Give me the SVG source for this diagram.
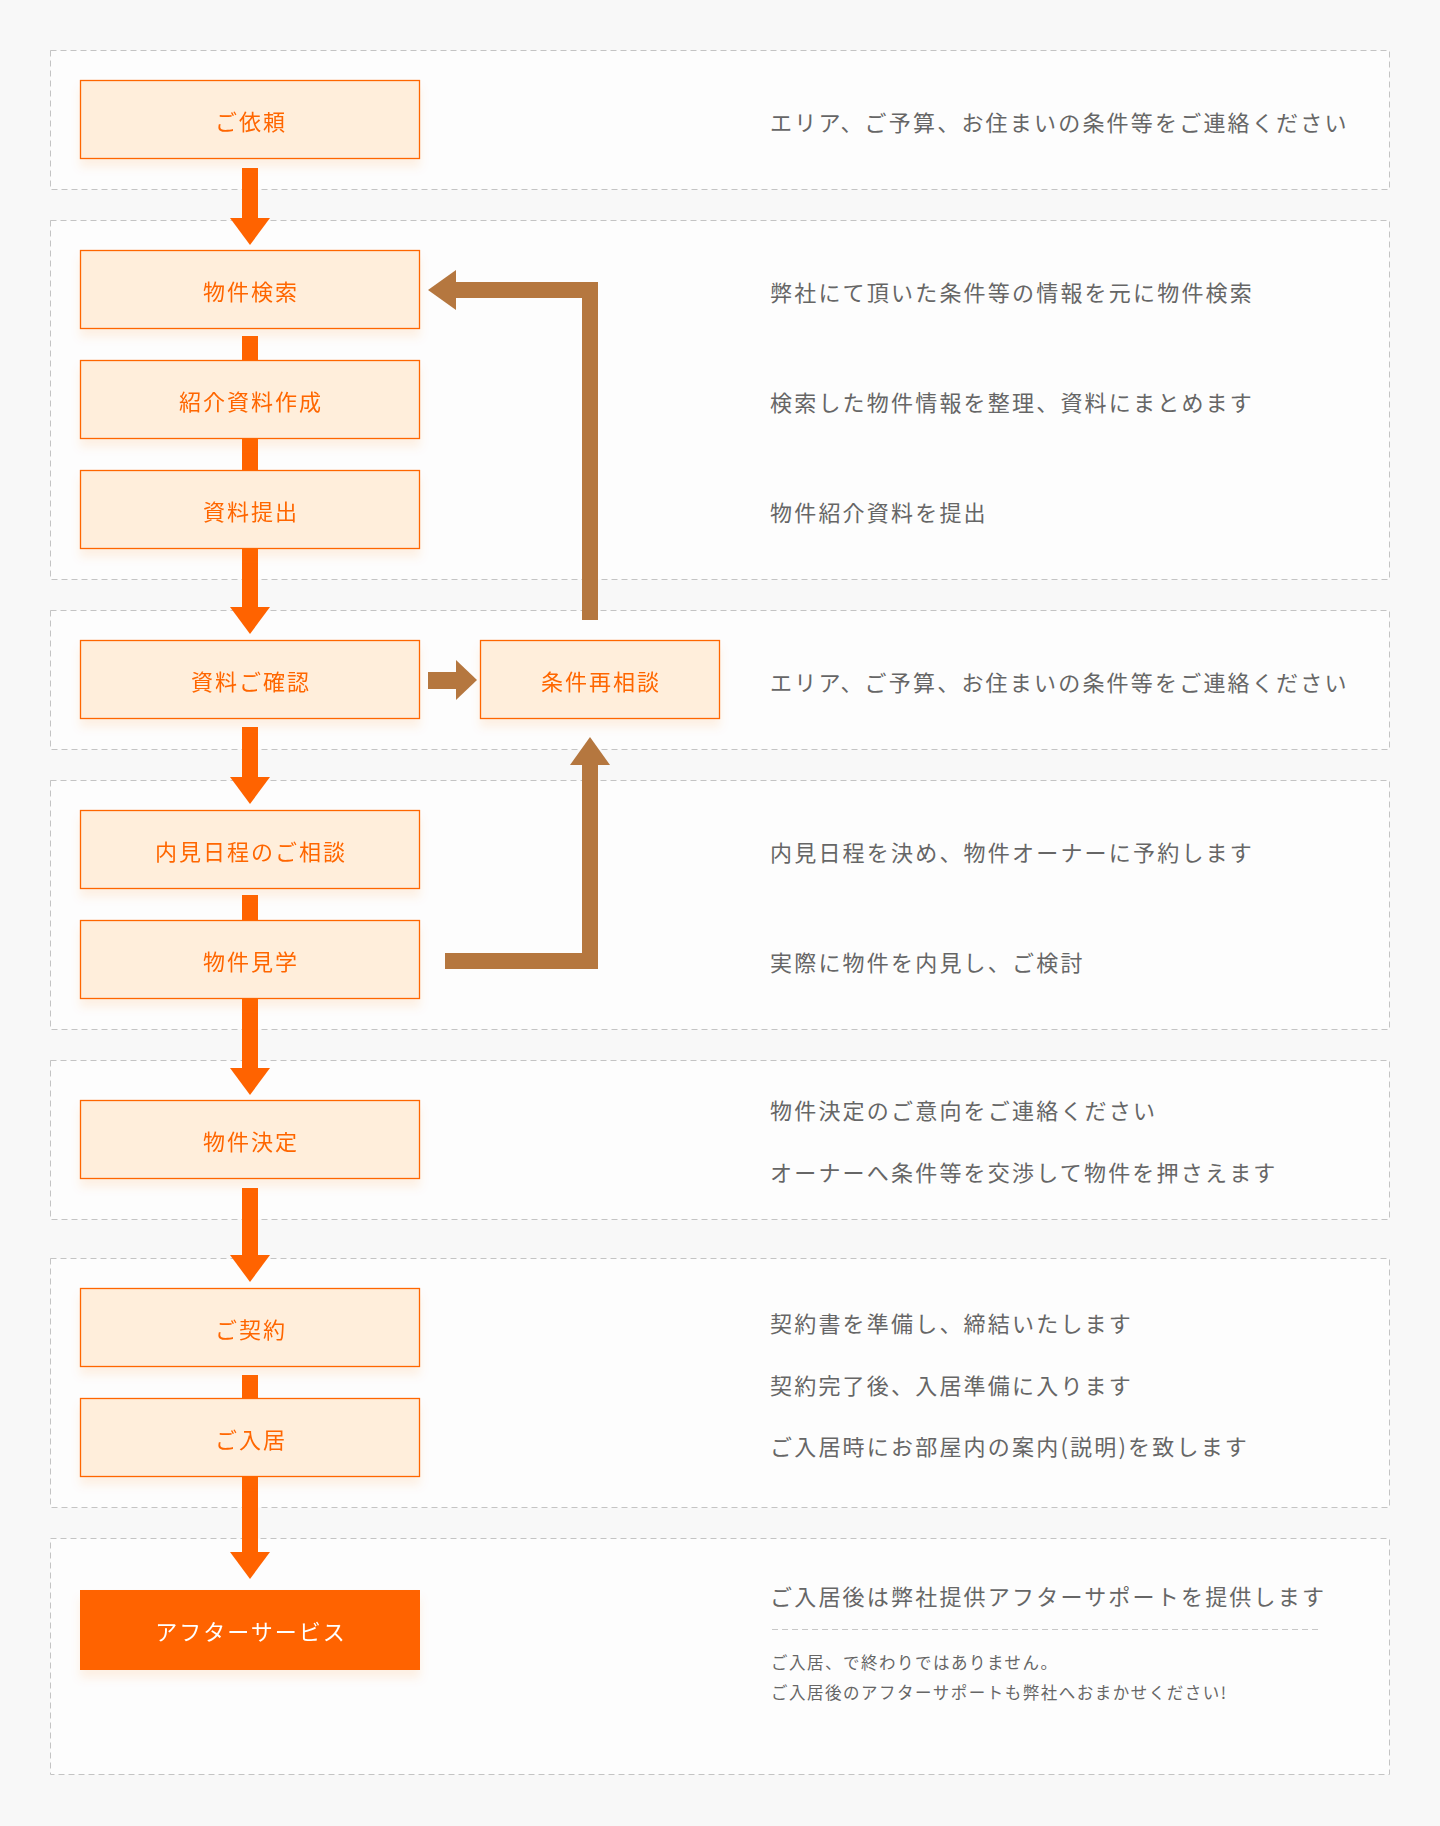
<svg xmlns="http://www.w3.org/2000/svg" width="1440" height="1826" viewBox="0 0 1440 1826">
<style>
.sec{fill:#fdfdfd;stroke:#c4c4c4;stroke-width:1;stroke-dasharray:6 4}
.nb{fill:#ffeedb;stroke:#ff6600;stroke-width:1.3}
.nt{font-family:"Noto Sans CJK JP","Noto Sans",sans-serif;font-size:22px;letter-spacing:2px;fill:#ff6600;text-anchor:middle;dominant-baseline:central}
.dt{font-family:"Noto Sans CJK JP","Noto Sans",sans-serif;font-size:22px;letter-spacing:2.2px;fill:#666;dominant-baseline:central}
.st{font-family:"Noto Sans CJK JP","Noto Sans",sans-serif;font-size:16.5px;letter-spacing:1.5px;fill:#666;dominant-baseline:central}
.oa{fill:#ff6300}
.ba{fill:#b5773f}
.bl{fill:none;stroke:#b5773f;stroke-width:16;stroke-linejoin:miter}
</style>
<defs>
<filter id="sh" x="-10%" y="-20%" width="120%" height="160%">
<feDropShadow dx="0" dy="8" stdDeviation="5" flood-color="#ff7a1a" flood-opacity="0.10"/>
</filter>
</defs>
<rect x="0" y="0" width="1440" height="1826" fill="#f8f8f8"/>

<g id="sections">
<rect class="sec" x="50.5" y="50.5" width="1339" height="139"/>
<rect class="sec" x="50.5" y="220.5" width="1339" height="359"/>
<rect class="sec" x="50.5" y="610.5" width="1339" height="139"/>
<rect class="sec" x="50.5" y="780.5" width="1339" height="249"/>
<rect class="sec" x="50.5" y="1060.5" width="1339" height="159"/>
<rect class="sec" x="50.5" y="1258.5" width="1339" height="249"/>
<rect class="sec" x="50.5" y="1538.5" width="1339" height="236"/>
</g>

<g id="connectors">
<rect class="oa" x="242" y="168" width="16" height="51"/>
<polygon class="oa" points="230,218 270,218 250,245"/>
<rect class="oa" x="242" y="336" width="16" height="25"/>
<rect class="oa" x="242" y="439" width="16" height="31"/>
<rect class="oa" x="242" y="548" width="16" height="60"/>
<polygon class="oa" points="230,607 270,607 250,634"/>
<rect class="oa" x="242" y="727" width="16" height="51"/>
<polygon class="oa" points="230,777 270,777 250,804"/>
<rect class="oa" x="242" y="895" width="16" height="25"/>
<rect class="oa" x="242" y="998" width="16" height="71"/>
<polygon class="oa" points="230,1068 270,1068 250,1095"/>
<rect class="oa" x="242" y="1188" width="16" height="68"/>
<polygon class="oa" points="230,1255 270,1255 250,1282"/>
<rect class="oa" x="242" y="1375" width="16" height="23"/>
<rect class="oa" x="242" y="1476" width="16" height="77"/>
<polygon class="oa" points="230,1552 270,1552 250,1579"/>
<rect class="ba" x="428" y="672" width="29" height="17"/>
<polygon class="ba" points="456,660 477,680 456,700"/>
<path class="bl" d="M590,620 V290 H455"/>
<polygon class="ba" points="456,270 428,290 456,310"/>
<path class="bl" d="M445,961 H590 V764"/>
<polygon class="ba" points="570,765 590,737 610,765"/>
</g>

<g id="n1" filter="url(#sh)"><rect class="nb" x="80.5" y="80.5" width="339" height="78"/><text class="nt" x="251" y="120">ご依頼</text></g>
<g id="n2" filter="url(#sh)"><rect class="nb" x="80.5" y="250.5" width="339" height="78"/><text class="nt" x="251" y="290">物件検索</text></g>
<g id="n3" filter="url(#sh)"><rect class="nb" x="80.5" y="360.5" width="339" height="78"/><text class="nt" x="251" y="400">紹介資料作成</text></g>
<g id="n4" filter="url(#sh)"><rect class="nb" x="80.5" y="470.5" width="339" height="78"/><text class="nt" x="251" y="510">資料提出</text></g>
<g id="n5" filter="url(#sh)"><rect class="nb" x="80.5" y="640.5" width="339" height="78"/><text class="nt" x="251" y="680">資料ご確認</text></g>
<g id="n6" filter="url(#sh)"><rect class="nb" x="480.5" y="640.5" width="239" height="78"/><text class="nt" x="601" y="680">条件再相談</text></g>
<g id="n7" filter="url(#sh)"><rect class="nb" x="80.5" y="810.5" width="339" height="78"/><text class="nt" x="251" y="850">内見日程のご相談</text></g>
<g id="n8" filter="url(#sh)"><rect class="nb" x="80.5" y="920.5" width="339" height="78"/><text class="nt" x="251" y="960">物件見学</text></g>
<g id="n9" filter="url(#sh)"><rect class="nb" x="80.5" y="1100.5" width="339" height="78"/><text class="nt" x="251" y="1140">物件決定</text></g>
<g id="n10" filter="url(#sh)"><rect class="nb" x="80.5" y="1288.5" width="339" height="78"/><text class="nt" x="251" y="1328">ご契約</text></g>
<g id="n11" filter="url(#sh)"><rect class="nb" x="80.5" y="1398.5" width="339" height="78"/><text class="nt" x="251" y="1438">ご入居</text></g>
<g id="n12" filter="url(#sh)"><rect x="80" y="1590" width="340" height="80" fill="#ff6400"/><text class="nt" x="251" y="1630" style="fill:#fff">アフターサービス</text></g>

<g id="descriptions">
<text class="dt" x="770" y="121">エリア、ご予算、お住まいの条件等をご連絡ください</text>
<text class="dt" x="770" y="291">弊社にて頂いた条件等の情報を元に物件検索</text>
<text class="dt" x="770" y="401">検索した物件情報を整理、資料にまとめます</text>
<text class="dt" x="770" y="511">物件紹介資料を提出</text>
<text class="dt" x="770" y="681">エリア、ご予算、お住まいの条件等をご連絡ください</text>
<text class="dt" x="770" y="851">内見日程を決め、物件オーナーに予約します</text>
<text class="dt" x="770" y="961">実際に物件を内見し、ご検討</text>
<text class="dt" x="770" y="1109">物件決定のご意向をご連絡ください</text>
<text class="dt" x="770" y="1171">オーナーへ条件等を交渉して物件を押さえます</text>
<text class="dt" x="770" y="1322">契約書を準備し、締結いたします</text>
<text class="dt" x="770" y="1384">契約完了後、入居準備に入ります</text>
<text class="dt" x="770" y="1445">ご入居時にお部屋内の案内(説明)を致します</text>
<text class="dt" x="770" y="1595">ご入居後は弊社提供アフターサポートを提供します</text>
<line x1="772" y1="1629.5" x2="1321" y2="1629.5" stroke="#c8c8c8" stroke-width="1" stroke-dasharray="6 4"/>
<text class="st" x="771" y="1662">ご入居、で終わりではありません。</text>
<text class="st" x="771" y="1692">ご入居後のアフターサポートも弊社へおまかせください!</text>
</g>
</svg>
